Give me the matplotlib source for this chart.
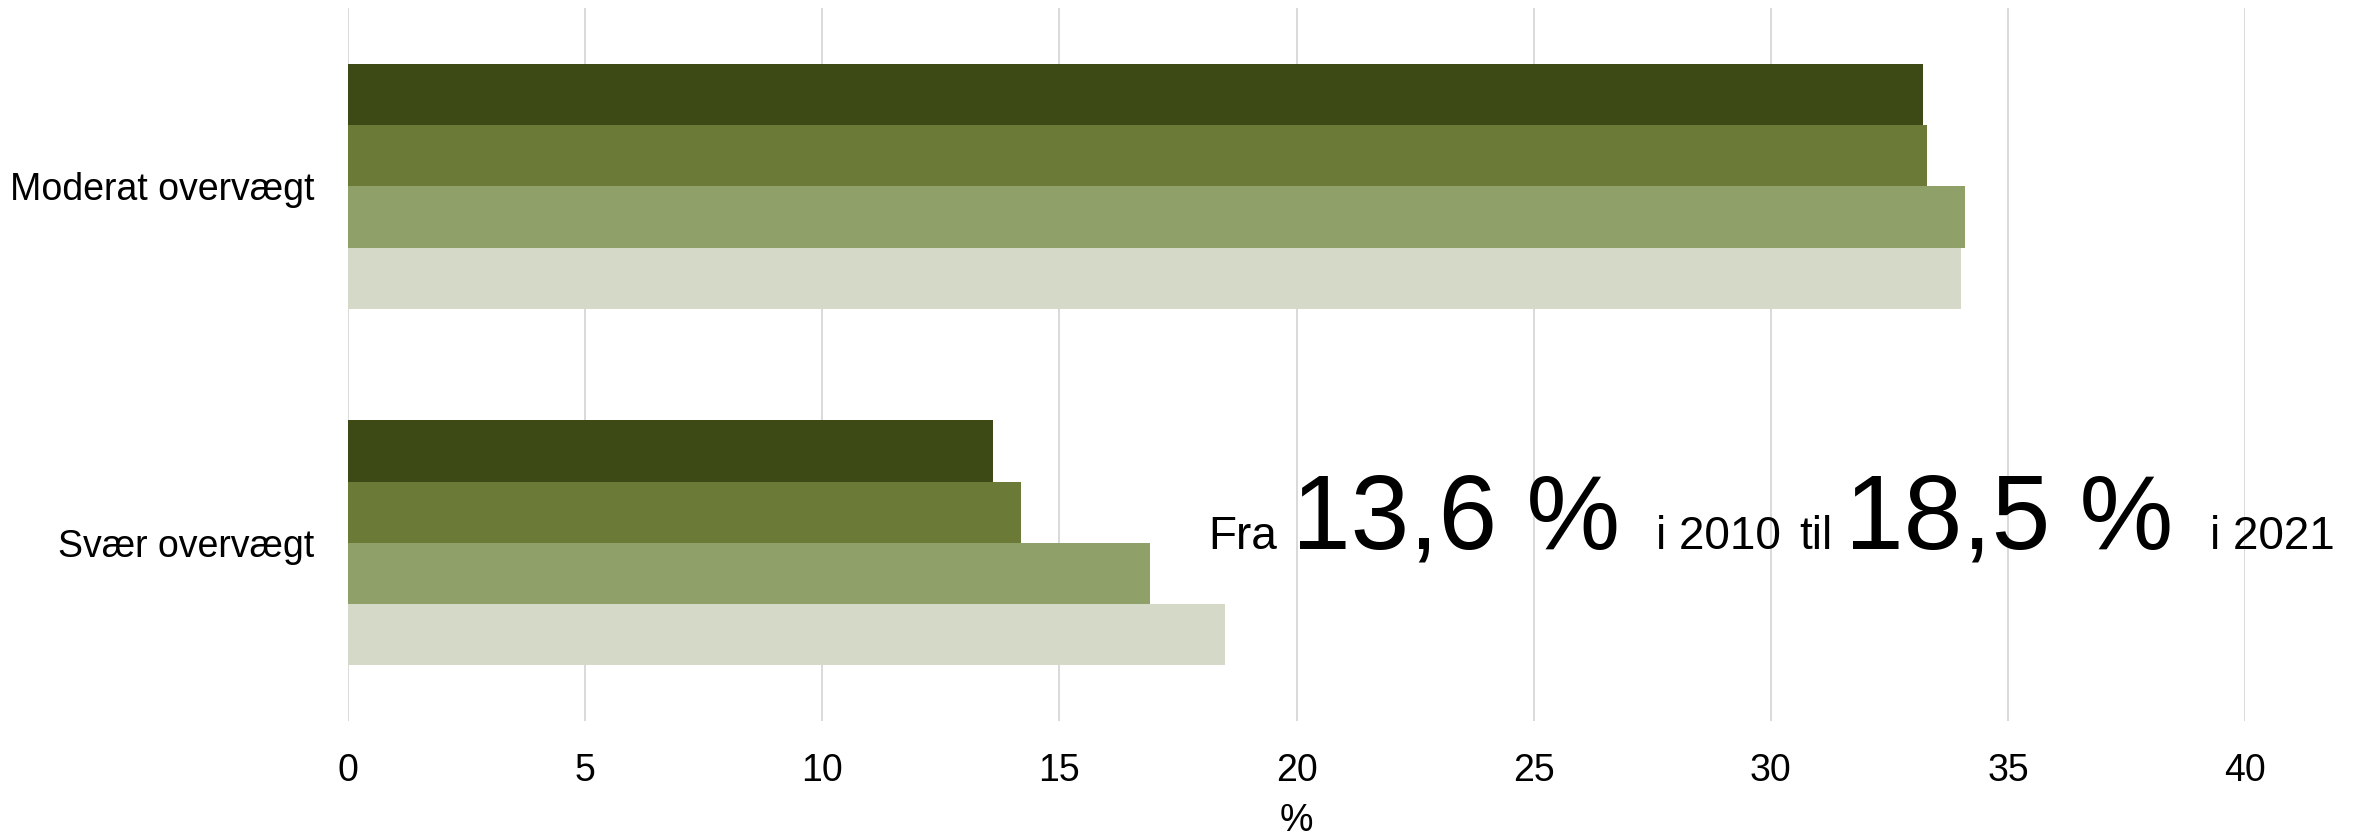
import matplotlib.pyplot as plt
import numpy as np

plt.rcParams['font.family'] = ['Liberation Sans', 'DejaVu Sans']

categories = ['Moderat overvægt', 'Svær overvægt']
years = ['2010', '2013', '2017', '2021']
values = {
    '2010': [33.2, 13.6],
    '2013': [33.3, 14.2],
    '2017': [34.1, 16.9],
    '2021': [34.0, 18.5],
}
colors = ['#3D4A16', '#6B7A36', '#8FA069', '#D5DAC8']
x_ticks = [0, 5, 10, 15, 20, 25, 30, 35, 40]

W, H = 2364, 834
fig = plt.figure(figsize=(W / 100, H / 100), dpi=100)
ax = fig.add_axes([0.1472, 0.1358, 0.9497 - 0.1472, 0.990 - 0.1358])

y = np.arange(len(categories))
h = 0.1715
for i, yr in enumerate(years):
    off = (i - 1.5) * h
    ax.barh(y + off, values[yr], height=h, color=colors[i], edgecolor='none', zorder=2)

ax.set_ylim(1.5, -0.5)
ax.set_xlim(0, 40)
ax.set_yticks(y)
ax.set_yticklabels(categories, fontsize=27)
ax.set_xticks(x_ticks)
ax.set_xticklabels([str(t) for t in x_ticks], fontsize=27)
ax.tick_params(axis='both', length=0)
ax.tick_params(axis='y', pad=24)
ax.tick_params(axis='x', pad=23)
ax.grid(axis='x', color='#D9D9D9', linewidth=1.4, zorder=0)
ax.set_axisbelow(True)
for s in ax.spines.values():
    s.set_visible(False)
ax.set_xlabel('%', fontsize=27, labelpad=10)

# annotation: pieces of different size (left position in pixels, text, size)
pieces = [
    (1208, 'Fra', 33),
    (1292, '13,6 %', 76),
    (1656, 'i 2010', 33),
    (1799, 'til', 33),
    (1845, '18,5 %', 76),
    (2210, 'i 2021', 33),
]
base_y = 1 - 549 / H
for px, txt, size in pieces:
    fig.text(px / W, base_y, txt, fontsize=size, ha='left', va='baseline')

fig.savefig('out.png', dpi=100)
